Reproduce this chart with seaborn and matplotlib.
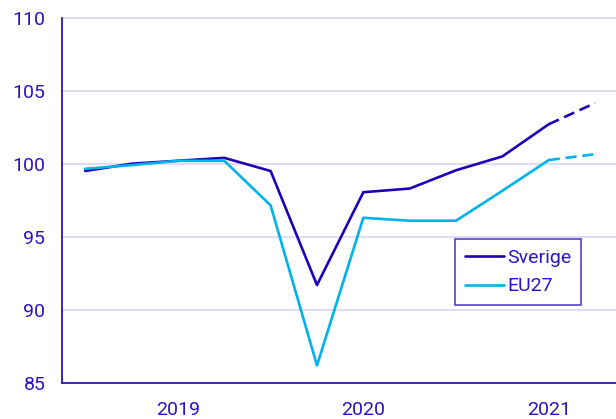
import matplotlib
matplotlib.use("Agg")
import matplotlib.pyplot as plt
import seaborn as sns
import pandas as pd
import numpy as np

quarters = ["2019K1", "2019K2", "2019K3", "2019K4",
            "2020K1", "2020K2", "2020K3", "2020K4",
            "2021K1", "2021K2", "2021K3", "2021K4"]
sverige = [99.5, 100.0, 100.2, 100.4, 99.5, 91.7, 98.05, 98.3, 99.55, 100.5, 102.7, 104.15]
eu27 = [99.65, 99.9, 100.2, 100.2, 97.15, 86.2, 96.3, 96.1, 96.1, 98.15, 100.25, 100.65]
years = ["2019", "2020", "2021"]
n_forecast = 1  # last quarter is a forecast (dashed)

sns.set_theme(style="white")
plt.rcParams['font.family'] = ['Roboto', 'DejaVu Sans']

TEXT = "#2A14C4"
C_SE = "#2200B8"
C_EU = "#00B2EA"
GRID = "#DCD9F3"

idx = np.arange(len(quarters))
df = pd.DataFrame({
    "idx": np.concatenate([idx, idx]),
    "value": sverige + eu27,
    "serie": ["Sverige"] * len(quarters) + ["EU27"] * len(quarters),
})
n_obs = len(quarters) - n_forecast
solid = df[df["idx"] <= n_obs - 1]
dashed = df[df["idx"] >= n_obs - 1]

fig = plt.figure(figsize=(6.16, 4.19), dpi=100)
ax = fig.add_axes([62 / 616, 1 - 383 / 419, 1 - 62 / 616, (383 - 17.5) / 419])

palette = {"Sverige": C_SE, "EU27": C_EU}
sns.lineplot(data=solid, x="idx", y="value", hue="serie", palette=palette,
             linewidth=1.9, ax=ax, legend=True)
sns.lineplot(data=dashed, x="idx", y="value", hue="serie", palette=palette,
             linewidth=1.9, ax=ax, legend=False, dashes=False)
for line in ax.lines[-2:]:
    line.set_linestyle((0, (4.2, 2.2)))

ax.set_xlim(-0.5, 11.45)
ax.set_ylim(85, 110)
ax.set_yticks([85, 90, 95, 100, 105, 110])
ax.yaxis.grid(True, color=GRID, linewidth=1.3)
ax.set_axisbelow(True)

ax.set_xticks([-0.5, 3.5, 7.5])
ax.set_xticklabels([])
ax.set_xticks([2, 6, 10], minor=True)
ax.set_xticklabels(years, minor=True)
ax.tick_params(axis="x", which="major", length=6, width=1.3, color=TEXT, direction="out")
ax.tick_params(axis="x", which="minor", length=0, pad=13, labelsize=14, labelcolor=TEXT)
ax.tick_params(axis="y", length=6, width=1.3, color=TEXT, direction="out",
               labelsize=14, labelcolor=TEXT, pad=6)

for s in ["top", "right"]:
    ax.spines[s].set_visible(False)
for s in ["left", "bottom"]:
    ax.spines[s].set_color(TEXT)
    ax.spines[s].set_linewidth(1.3)

ax.set_xlabel("")
ax.set_ylabel("")

leg = ax.legend(loc="upper left", bbox_to_anchor=((455 - 62) / 554, (383 - 239) / 365.5),
                frameon=True, fancybox=False, fontsize=14, handlelength=2.0,
                handletextpad=0.2, borderpad=0.5, labelspacing=0.55, borderaxespad=0)
leg.get_frame().set_edgecolor(TEXT)
leg.get_frame().set_linewidth(1.2)
for t in leg.get_texts():
    t.set_color(TEXT)
leg.set_title(None)

fig.savefig("out.png", dpi=100)
